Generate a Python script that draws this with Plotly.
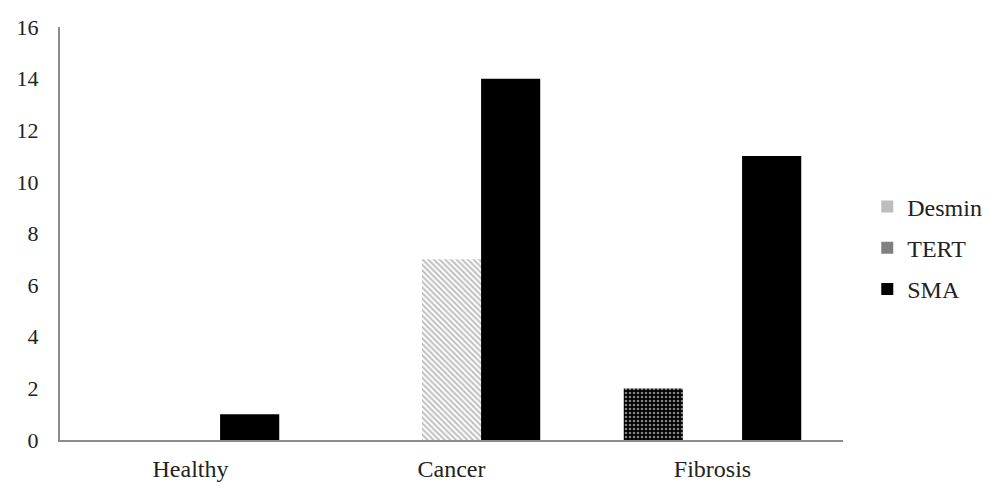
import plotly.graph_objects as go

# Data
categories = ['Healthy', 'Cancer', 'Fibrosis']
desmin = [0, 7, 0]
tert = [0, 0, 2]
sma = [1, 14, 11]

font = 'Liberation Serif'

fig = go.Figure()

# slot order in each group: TERT, Desmin, SMA (as in the source chart)
fig.add_trace(go.Bar(x=categories, y=tert, name='TERT', showlegend=False,
                     marker=dict(color='black', line=dict(width=0),
                                 pattern=dict(shape='.', fgcolor='white', bgcolor='black',
                                              size=4, solidity=0.35))))
fig.add_trace(go.Bar(x=categories, y=desmin, name='Desmin', showlegend=False,
                     marker=dict(color='white', line=dict(width=0),
                                 pattern=dict(shape='\\', fgcolor='#808080', bgcolor='white',
                                              size=4, solidity=0.5))))
fig.add_trace(go.Bar(x=categories, y=sma, name='SMA', showlegend=False,
                     marker=dict(color='black', line=dict(width=0))))

# legend entries as plain squares
for name, col, rank in [('Desmin', '#bdbdbd', 1), ('TERT', '#808080', 2), ('SMA', 'black', 3)]:
    fig.add_trace(go.Scatter(x=[None], y=[None], mode='markers', name=name,
                             legendgroup=name, legendrank=rank,
                             marker=dict(symbol='square', size=12, color=col)))

# the page body has an 8px margin, so margins are shifted to compensate
fig.update_layout(
    width=1000, height=497,
    margin=dict(l=52, r=165, t=19, b=65, autoexpand=False),
    plot_bgcolor='white', paper_bgcolor='white',
    barmode='group', bargap=0.32, bargroupgap=0,
    font=dict(family=font, size=24, color='#222'),
    legend=dict(x=1.031, y=0.465, xanchor='left', yanchor='middle',
                font=dict(family=font, size=24, color='#222'),
                tracegroupgap=7, bgcolor='rgba(0,0,0,0)'),
    shapes=[dict(type='line', xref='paper', yref='paper', x0=-0.1, x1=1.2, y0=1.06, y1=1.06,
                 line=dict(color='#c8c8c8', width=2))],
)
fig.update_xaxes(showline=True, linecolor='#8c8c8c', linewidth=2, showgrid=False,
                 ticks='', ticklabelstandoff=6, automargin=False,
                 tickfont=dict(size=24))
fig.update_yaxes(range=[0, 16], dtick=2, showline=True, linecolor='#8c8c8c', linewidth=2,
                 showgrid=False, zeroline=False, ticks='', ticklabelstandoff=15,
                 automargin=False, tickfont=dict(size=22))

fig.write_html('out.html')
